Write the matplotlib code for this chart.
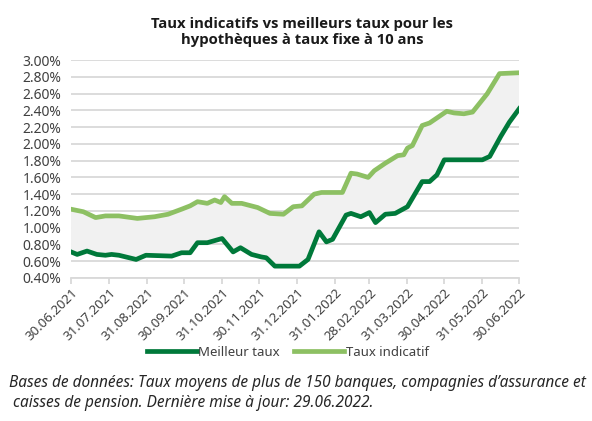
import numpy as np
import pandas as pd
import matplotlib
matplotlib.use("Agg")
import matplotlib.pyplot as plt
import matplotlib.dates as mdates
from matplotlib.ticker import FuncFormatter

plt.rcParams['font.family'] = ['Noto Sans', 'DejaVu Sans']

# Taux indicatif (light green)
dates_ind = ["2021-06-30", "2021-07-10", "2021-07-20", "2021-07-28", "2021-08-08", "2021-08-23",
             "2021-09-06", "2021-09-17", "2021-09-28", "2021-10-05", "2021-10-11", "2021-10-19",
             "2021-10-25", "2021-10-30", "2021-11-02", "2021-11-08", "2021-11-16", "2021-11-29",
             "2021-12-09", "2021-12-20", "2021-12-28", "2022-01-04", "2022-01-14", "2022-01-20",
             "2022-02-06", "2022-02-13", "2022-02-18", "2022-02-27", "2022-03-04", "2022-03-13",
             "2022-03-23", "2022-03-28", "2022-03-31", "2022-04-04", "2022-04-12", "2022-04-18",
             "2022-05-02", "2022-05-08", "2022-05-16", "2022-05-23", "2022-06-04", "2022-06-14",
             "2022-06-30"]
taux_ind = [1.22, 1.19, 1.12, 1.14, 1.14, 1.11,
            1.13, 1.16, 1.22, 1.26, 1.31, 1.29,
            1.33, 1.30, 1.37, 1.29, 1.29, 1.24,
            1.17, 1.16, 1.25, 1.26, 1.40, 1.42,
            1.42, 1.65, 1.64, 1.60, 1.68, 1.77,
            1.86, 1.87, 1.95, 1.98, 2.22, 2.25,
            2.39, 2.37, 2.36, 2.38, 2.60, 2.84,
            2.85]

# Meilleur taux (dark green)
dates_best = ["2021-06-30", "2021-07-05", "2021-07-13", "2021-07-21", "2021-07-28", "2021-08-02",
              "2021-08-08", "2021-08-22", "2021-08-30", "2021-09-20", "2021-09-28", "2021-10-05",
              "2021-10-11", "2021-10-19", "2021-10-31", "2021-11-09", "2021-11-15", "2021-11-24",
              "2021-12-02", "2021-12-06", "2021-12-13", "2022-01-02", "2022-01-09", "2022-01-18",
              "2022-01-24", "2022-01-29", "2022-02-09", "2022-02-13", "2022-02-21", "2022-02-28",
              "2022-03-05", "2022-03-13", "2022-03-21", "2022-03-31", "2022-04-12", "2022-04-18",
              "2022-04-24", "2022-04-30", "2022-05-31", "2022-06-06", "2022-06-15", "2022-06-22",
              "2022-06-30"]
taux_best = [0.71, 0.68, 0.72, 0.68, 0.67, 0.68,
             0.67, 0.62, 0.67, 0.66, 0.70, 0.70,
             0.82, 0.82, 0.87, 0.71, 0.76, 0.68,
             0.65, 0.64, 0.54, 0.54, 0.62, 0.95,
             0.83, 0.86, 1.15, 1.17, 1.13, 1.18,
             1.06, 1.16, 1.17, 1.25, 1.55, 1.55,
             1.63, 1.81, 1.81, 1.85, 2.09, 2.26,
             2.42]

tick_dates = ["2021-06-30", "2021-07-31", "2021-08-31", "2021-09-30", "2021-10-31", "2021-11-30",
              "2021-12-31", "2022-01-31", "2022-02-28", "2022-03-31", "2022-04-30", "2022-05-31",
              "2022-06-30"]

d_ind = pd.to_datetime(dates_ind)
d_best = pd.to_datetime(dates_best)
ticks = pd.to_datetime(tick_dates)

dark = "#00793a"
light = "#8dc063"
txt = "#404040"

fig = plt.figure(figsize=(5.92, 4.21), dpi=100)
ax = fig.add_axes([0.12, 0.34, 0.757, 0.517])

# shaded band between the two lines
xs = np.concatenate([mdates.date2num(d_ind), mdates.date2num(d_best)[::-1]])
ys = np.concatenate([taux_ind, taux_best[::-1]])
ax.fill(xs, ys, color="#f1f1f1", lw=0, zorder=1)

ax.plot(d_best, taux_best, color=dark, lw=3.4, solid_joinstyle="round", label="Meilleur taux", zorder=3)
ax.plot(d_ind, taux_ind, color=light, lw=3.4, solid_joinstyle="round", label="Taux indicatif", zorder=3)

ax.set_ylim(0.4, 3.0)
ax.set_yticks(np.arange(0.4, 3.01, 0.2))
ax.yaxis.set_major_formatter(FuncFormatter(lambda v, p: f"{v:.2f}%"))
ax.set_xlim(ticks[0], ticks[-1])
ax.set_xticks(ticks)
ax.set_xticklabels([t.strftime("%d.%m.%Y") for t in ticks], rotation=45, ha="right",
                   rotation_mode="anchor")

ax.grid(axis="y", color="#d9d9d9", lw=1.3, zorder=0)
ax.set_axisbelow(True)
for s in ["top", "right", "left"]:
    ax.spines[s].set_visible(False)
ax.spines["bottom"].set_color("#d9d9d9")
ax.spines["bottom"].set_linewidth(1.3)
ax.tick_params(axis="y", length=0, labelsize=10, colors=txt, pad=7)
ax.tick_params(axis="x", length=4, width=1.3, color="#d9d9d9", labelsize=9.5,
               labelcolor=txt, pad=2)

fig.text(0.51, 0.924, "Taux indicatifs vs meilleurs taux pour les\nhypothèques à taux fixe à 10 ans",
         ha="center", va="center", fontsize=10.7, fontweight="bold", color="#1a1a1a",
         linespacing=1.25, family=["Open Sans", "DejaVu Sans"])

fig.legend(loc="center", bbox_to_anchor=(0.486, 0.163), ncol=2, frameon=False, fontsize=9.5,
           handlelength=3.8, handletextpad=0.1, columnspacing=1.1, labelcolor=txt)

fig.text(0.015, 0.067, "Bases de données: Taux moyens de plus de 150 banques, compagnies d’assurance et\n caisses de pension. Dernière mise à jour: 29.06.2022.",
         ha="left", va="center", fontsize=11.1, style="italic", color="#262626", linespacing=1.35)

fig.savefig("out.png", dpi=100)
